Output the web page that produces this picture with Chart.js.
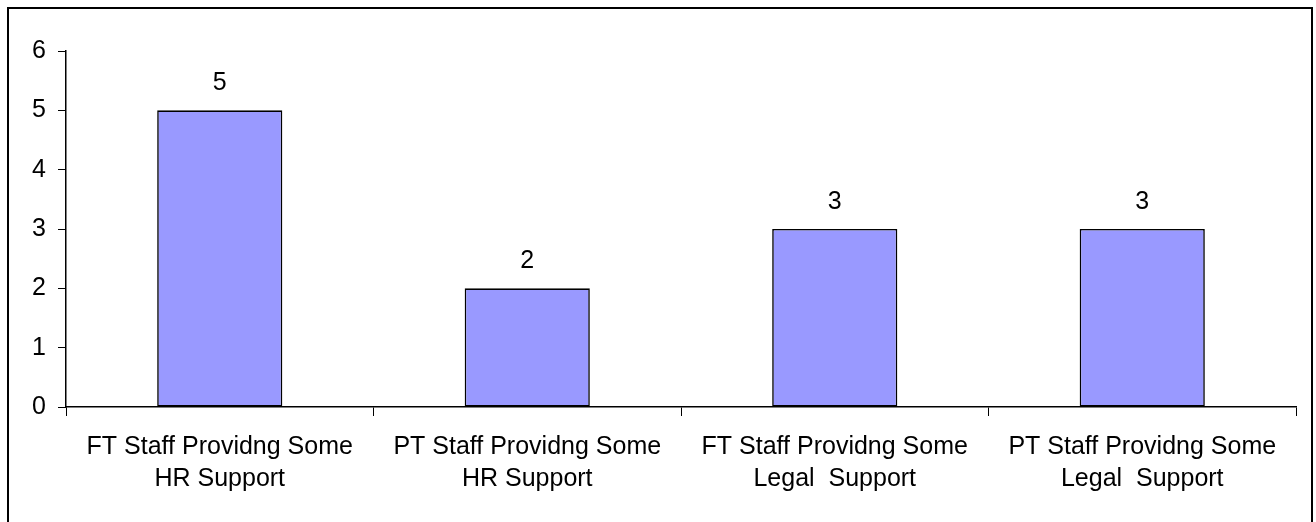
<!DOCTYPE html>
<html>
<head>
<meta charset="utf-8">
<script src="https://cdn.jsdelivr.net/npm/chart.js@4/dist/chart.umd.min.js"></script>
<style>
  html, body { margin: 0; padding: 0; background: #fff; overflow: hidden; }
  #wrap { position: relative; width: 1316px; height: 522px; }
  #frame { position: absolute; left: 7px; top: 7px; width: 1306px; height: 530px; border: 2px solid #000; box-sizing: border-box; pointer-events: none; }
  canvas { position: absolute; left: 0; top: 0; }
</style>
</head>
<body>
<div id="wrap">
  <canvas id="c" width="1316" height="522"></canvas>
  <div id="frame"></div>
</div>
<script>
const categories = [
  ['FT Staff Providng Some', 'HR Support'],
  ['PT Staff Providng Some', 'HR Support'],
  ['FT Staff Providng Some', 'Legal  Support'],
  ['PT Staff Providng Some', 'Legal  Support']
];
const staffCounts = [5, 2, 3, 3];
const yTicks = [0, 1, 2, 3, 4, 5, 6];

const FONT = '"Liberation Sans", Arial, sans-serif';

// Writes each bar's value above it, positioned from the bar element itself
const valueLabels = {
  id: 'valueLabels',
  afterDatasetsDraw(chart) {
    const ctx = chart.ctx;
    const meta = chart.getDatasetMeta(0);
    ctx.save();
    ctx.font = '25px ' + FONT;
    ctx.fillStyle = '#000';
    ctx.textAlign = 'center';
    ctx.textBaseline = 'alphabetic';
    meta.data.forEach((bar, i) => {
      ctx.fillText(String(staffCounts[i]), bar.x, bar.y - 20);
    });
    ctx.restore();
  }
};

new Chart(document.getElementById('c'), {
  type: 'bar',
  data: {
    labels: categories,
    datasets: [{
      data: staffCounts,
      backgroundColor: '#9999FF',
      borderColor: '#000',
      borderWidth: 1.6,
      borderSkipped: false,
      barPercentage: 0.407,
      categoryPercentage: 1
    }]
  },
  options: {
    responsive: false,
    animation: false,
    devicePixelRatio: 1,
    layout: { padding: { left: 0, right: 20, top: 51, bottom: 0 } },
    plugins: { legend: { display: false }, tooltip: { enabled: false } },
    scales: {
      x: {
        offset: true,
        grid: { offset: true, drawOnChartArea: false, color: '#000', tickLength: 9, lineWidth: 1 },
        border: { color: '#000', width: 1.5 },
        ticks: {
          color: '#000',
          font: { family: FONT, size: 25, lineHeight: 1.28 },
          padding: 15,
          maxRotation: 0,
          autoSkip: false
        },
        afterFit(scale) { scale.height = 115; }
      },
      y: {
        min: 0,
        max: 6,
        afterBuildTicks(scale) { scale.ticks = yTicks.map(v => ({ value: v })); },
        grid: { drawOnChartArea: false, color: '#000', tickLength: 8, lineWidth: 1 },
        border: { color: '#000', width: 1.5 },
        ticks: {
          color: '#000',
          font: { family: FONT, size: 25 },
          padding: 12
        },
        afterFit(scale) { scale.width = 66; }
      }
    }
  },
  plugins: [valueLabels]
});
</script>
</body>
</html>
